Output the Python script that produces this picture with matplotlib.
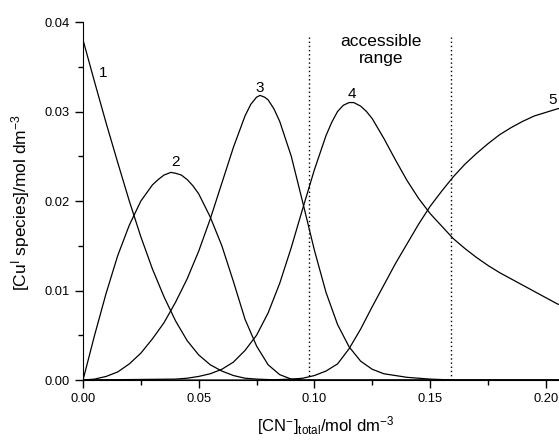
import matplotlib
matplotlib.use("Agg")
from matplotlib import pyplot as plt
from matplotlib.ticker import MultipleLocator

plt.rcParams['font.family'] = ['Liberation Sans', 'DejaVu Sans']
plt.rcParams['mathtext.default'] = 'regular'

# [CN-] total, mol dm-3
x1 = [0, 0.005, 0.010, 0.015, 0.020, 0.025, 0.030, 0.035, 0.040, 0.045, 0.050,
      0.055, 0.060, 0.065, 0.070, 0.075, 0.080, 0.085, 0.21]
y1 = [0.0380, 0.0333, 0.0287, 0.0243, 0.0200, 0.0160, 0.0124, 0.0093, 0.0066, 0.0044,
      0.0028, 0.0017, 0.0010, 0.0005, 0.0002, 0.0001, 0.00005, 0.0, 0.0]

x2 = [0, 0.005, 0.010, 0.015, 0.020, 0.025, 0.030, 0.0325, 0.035, 0.038, 0.040,
      0.0425, 0.045, 0.0475, 0.050, 0.055, 0.060, 0.065, 0.070, 0.075, 0.080, 0.085,
      0.090, 0.095, 0.21]
y2 = [0.0, 0.0050, 0.0097, 0.0139, 0.0173, 0.0200, 0.0218, 0.0224, 0.0229, 0.0232,
      0.0231, 0.0229, 0.0224, 0.0217, 0.0208, 0.0182, 0.0150, 0.0110, 0.0068, 0.0038,
      0.0017, 0.0006, 0.0001, 0.0, 0.0]

x3 = [0, 0.005, 0.010, 0.015, 0.020, 0.025, 0.030, 0.035, 0.040, 0.045, 0.050, 0.055,
      0.060, 0.065, 0.070, 0.0725, 0.075, 0.0765, 0.0785, 0.080, 0.0825, 0.085, 0.090,
      0.095, 0.100, 0.105, 0.110, 0.115, 0.120, 0.125, 0.130, 0.140, 0.150, 0.160, 0.21]
y3 = [0.0, 0.0001, 0.0004, 0.0009, 0.0018, 0.0030, 0.0046, 0.0064, 0.0087, 0.0113,
      0.0144, 0.0180, 0.0220, 0.0260, 0.0295, 0.0308, 0.0316, 0.0318, 0.0316, 0.0313,
      0.0303, 0.0289, 0.0250, 0.0198, 0.0145, 0.0098, 0.0062, 0.0037, 0.0021, 0.0012,
      0.0007, 0.0003, 0.0001, 0.0, 0.0]

x4 = [0, 0.040, 0.045, 0.050, 0.055, 0.060, 0.065, 0.070, 0.075, 0.080, 0.085, 0.090,
      0.095, 0.100, 0.105, 0.1075, 0.110, 0.1125, 0.115, 0.117, 0.120, 0.1225, 0.125,
      0.130, 0.135, 0.140, 0.145, 0.150, 0.155, 0.160, 0.165, 0.170, 0.175, 0.180,
      0.185, 0.190, 0.195, 0.200, 0.205, 0.21]
y4 = [0.0, 0.0001, 0.0002, 0.0004, 0.0007, 0.0012, 0.0020, 0.0033, 0.0050, 0.0075,
      0.0108, 0.0148, 0.0192, 0.0235, 0.0273, 0.0288, 0.0300, 0.0307, 0.0310, 0.0310,
      0.0306, 0.0300, 0.0292, 0.0270, 0.0246, 0.0223, 0.0203, 0.0186, 0.0172, 0.0158,
      0.0147, 0.0137, 0.0128, 0.0120, 0.0113, 0.0106, 0.0099, 0.0092, 0.0085, 0.0081]

x5 = [0, 0.080, 0.090, 0.095, 0.100, 0.105, 0.110, 0.115, 0.120, 0.125, 0.130, 0.135,
      0.140, 0.145, 0.150, 0.155, 0.160, 0.165, 0.170, 0.175, 0.180, 0.185, 0.190,
      0.195, 0.200, 0.205, 0.21]
y5 = [0.0, 0.0, 0.0001, 0.0002, 0.0005, 0.0010, 0.0018, 0.0035, 0.0057, 0.0082,
      0.0106, 0.0130, 0.0152, 0.0174, 0.0194, 0.0211, 0.0227, 0.0241, 0.0253, 0.0264,
      0.0274, 0.0282, 0.0289, 0.0295, 0.0299, 0.0303, 0.0306]

curves = [(x1, y1), (x2, y2), (x3, y3), (x4, y4), (x5, y5)]
curve_labels = ['1', '2', '3', '4', '5']
label_pos = [(0.0086, 0.0343), (0.040, 0.0244), (0.0765, 0.0326), (0.1161, 0.0320), (0.2030, 0.0313)]

range_limits = [0.0977, 0.1589]

fig = plt.figure(figsize=(5.59, 4.41), dpi=100)
ax = fig.add_axes([0.1485, 0.1383, 0.8515, 0.8118])

for (xs, ys) in curves:
    ax.plot(xs, ys, color='black', lw=0.9)

for lbl, (lx, ly) in zip(curve_labels, label_pos):
    ax.text(lx, ly, lbl, ha='center', va='center', fontsize=11)

for xv in range_limits:
    ax.plot([xv, xv], [0, 0.0383], color='black', lw=1.0, linestyle=(0, (1, 2)))
ax.text(0.1287, 0.0369, 'accessible\nrange', ha='center', va='center', fontsize=12.5,
        linespacing=1.15)

ax.set_xlim(0, 0.2057)
ax.set_ylim(0, 0.04)
ax.spines['top'].set_visible(False)
ax.spines['right'].set_visible(False)

ax.xaxis.set_major_locator(MultipleLocator(0.05))
ax.xaxis.set_minor_locator(MultipleLocator(0.025))
ax.yaxis.set_major_locator(MultipleLocator(0.01))
ax.yaxis.set_minor_locator(MultipleLocator(0.005))
ax.xaxis.set_major_formatter(plt.FuncFormatter(lambda v, p: f"{v:.2f}"))
ax.yaxis.set_major_formatter(plt.FuncFormatter(lambda v, p: f"{v:.2f}"))
ax.tick_params(which='major', direction='out', length=6, width=1, labelsize=9.3)
ax.tick_params(which='minor', direction='out', length=3.5, width=1)

fig.text(326 / 559, 1 - 426 / 441, '[CN$^{-}$]$_{total}$/mol dm$^{-3}$',
         ha='center', va='center', fontsize=12)
fig.text(21 / 559, 1 - 203 / 441, '[Cu$^{I}$ species]/mol dm$^{-3}$',
         ha='center', va='center', rotation=90, fontsize=12.5)

fig.savefig('out.png', dpi=100)
